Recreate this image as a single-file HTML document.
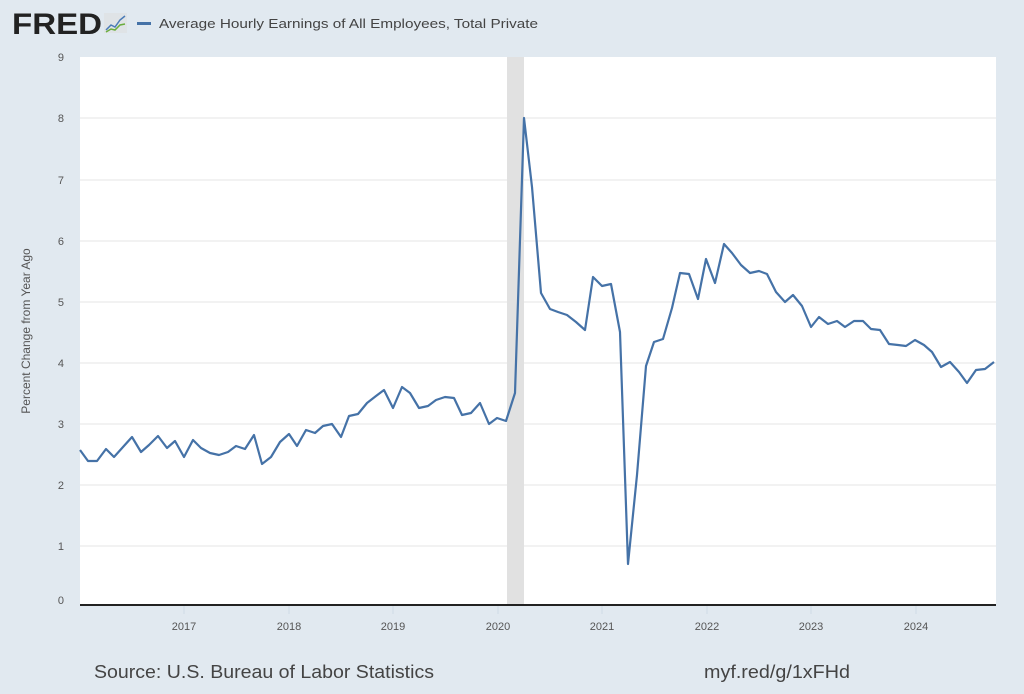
<!DOCTYPE html>
<html><head><style>
body{margin:0;width:1024px;height:689px;background:#e1e9f0;overflow:hidden;font-family:"Liberation Sans",sans-serif}
</style></head><body>
<svg width="1024" height="689" xmlns="http://www.w3.org/2000/svg" font-family="Liberation Sans, sans-serif">
<rect x="0" y="0" width="1024" height="689" fill="#e1e9f0"/>
<text x="12" y="34" font-size="30" font-weight="bold" fill="#222" textLength="90" lengthAdjust="spacingAndGlyphs">FRED</text>
<rect x="104" y="13" width="23" height="20" fill="#dfe3e6"/>
<polyline points="106,30 111,25 115,27 120,20 125,16" fill="none" stroke="#4a7bb7" stroke-width="1.5"/>
<polyline points="106,32 111,29 115,30 120,25 125,24" fill="none" stroke="#6aad3d" stroke-width="1.5"/>
<rect x="137" y="22" width="14" height="3" fill="#4572a7"/>
<text x="159" y="28" font-size="13" fill="#444" textLength="379" lengthAdjust="spacingAndGlyphs">Average Hourly Earnings of All Employees, Total Private</text>
<rect x="80" y="57" width="916" height="548" fill="#fff"/>
<g stroke="#e6e6e6" stroke-width="1">
<line x1="80" x2="996" y1="118" y2="118"/><line x1="80" x2="996" y1="180" y2="180"/><line x1="80" x2="996" y1="241" y2="241"/><line x1="80" x2="996" y1="302" y2="302"/><line x1="80" x2="996" y1="363" y2="363"/><line x1="80" x2="996" y1="424" y2="424"/><line x1="80" x2="996" y1="485" y2="485"/><line x1="80" x2="996" y1="546" y2="546"/>
</g>
<rect x="507" y="57" width="17" height="548" fill="#e1e1e1"/>
<g font-size="11" fill="#555" text-anchor="end">
<text x="64" y="61">9</text><text x="64" y="122">8</text><text x="64" y="184">7</text><text x="64" y="245">6</text><text x="64" y="306">5</text><text x="64" y="367">4</text><text x="64" y="428">3</text><text x="64" y="489">2</text><text x="64" y="550">1</text><text x="64" y="604">0</text>
</g>
<text transform="translate(30,331) rotate(-90)" font-size="12" fill="#555" text-anchor="middle">Percent Change from Year Ago</text>
<polyline fill="none" stroke="#4572a7" stroke-width="2.2" stroke-linejoin="round" points="80,450 88,461 97,461 106,449 114,457 123,447 132,437 141,452 149,445 158,436 167,448 175,441 184,457 193,440 201,448 210,453 219,455 228,452 236,446 245,449 254,435 262,464 271,457 280,442 289,434 297,446 306,430 315,433 323,426 332,424 341,437 349,416 358,414 367,403 376,396 384,390 393,408 402,387 410,393 419,408 428,406 436,400 445,397 454,398 462,415 471,413 480,403 489,424 497,418 506,421 515,393 524,118 532,187 541,293 550,309 558,312 567,315 576,322 585,330 593,277 602,286 611,284 620,332 628,564 637,475 646,366 654,342 663,339 672,308 680,273 689,274 698,299 706,259 715,283 724,244 732,253 741,265 750,273 759,271 767,274 776,292 785,302 793,295 802,306 811,327 819,317 828,324 837,321 845,327 854,321 863,321 871,329 880,330 889,344 898,345 906,346 915,340 924,345 932,352 941,367 950,362 959,372 967,383 976,370 985,369 994,362"/>
<line x1="80" x2="996" y1="605" y2="605" stroke="#222" stroke-width="2"/>
<g stroke="#cfdbe6"><line x1="184" x2="184" y1="606" y2="614"/><line x1="289" x2="289" y1="606" y2="614"/><line x1="393" x2="393" y1="606" y2="614"/><line x1="498" x2="498" y1="606" y2="614"/><line x1="602" x2="602" y1="606" y2="614"/><line x1="707" x2="707" y1="606" y2="614"/><line x1="811" x2="811" y1="606" y2="614"/><line x1="916" x2="916" y1="606" y2="614"/></g>
<g font-size="11" fill="#555" text-anchor="middle">
<text x="184" y="630">2017</text><text x="289" y="630">2018</text><text x="393" y="630">2019</text><text x="498" y="630">2020</text><text x="602" y="630">2021</text><text x="707" y="630">2022</text><text x="811" y="630">2023</text><text x="916" y="630">2024</text>
</g>
<text x="94" y="678" font-size="18" fill="#444" textLength="340" lengthAdjust="spacingAndGlyphs">Source: U.S. Bureau of Labor Statistics</text>
<text x="704" y="678" font-size="18" fill="#444" textLength="146" lengthAdjust="spacingAndGlyphs">myf.red/g/1xFHd</text>
</svg>
</body></html>
